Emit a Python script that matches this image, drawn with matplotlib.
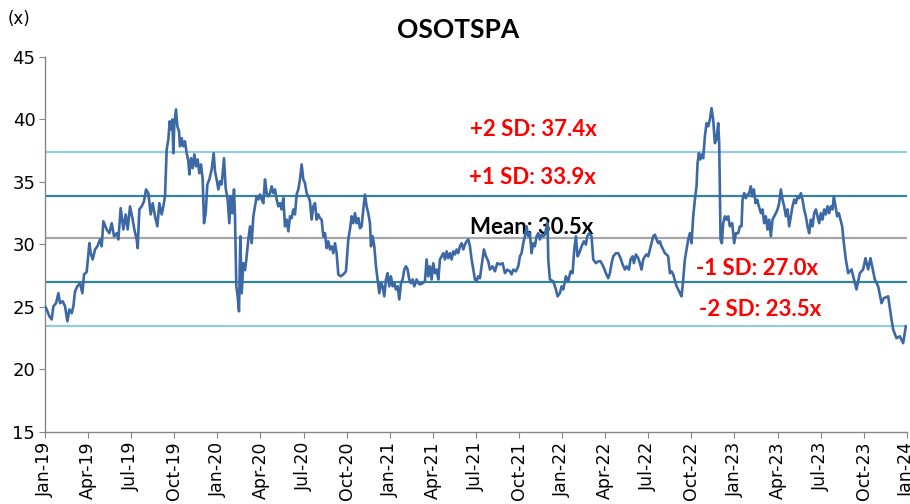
"""
OSOTSPA forward P/E band chart.
"""
import matplotlib
matplotlib.use('Agg')
import matplotlib.pyplot as plt

# months since Jan-2019
months = [
    0.0, 0.116, 0.302, 0.464, 0.580, 0.766, 0.928, 1.044, 1.230, 1.392,
    1.555, 1.694, 1.856, 1.972, 2.088, 2.251, 2.436, 2.599, 2.715, 2.900,
    3.086, 3.179, 3.318, 3.480, 3.643, 3.828, 3.944, 4.060, 4.292, 4.478,
    4.640, 4.803, 4.988, 5.104, 5.267, 5.453, 5.615, 5.754, 5.917, 6.102,
    6.218, 6.381, 6.450, 6.566, 6.729, 6.891, 7.030, 7.193, 7.355, 7.494,
    7.657, 7.819, 7.958, 8.121, 8.237, 8.353,
    8.469, 8.585, 8.678, 8.771, 8.863, 8.933, 9.003, 9.119, 9.211, 9.327,
    9.397, 9.513, 9.629, 9.745, 9.861, 9.977, 10.047, 10.163, 10.279, 10.395,
    10.511, 10.627, 10.743, 10.859, 10.975, 11.068, 11.184, 11.300, 11.439, 11.601,
    11.740, 11.833, 11.949, 12.065, 12.181, 12.297, 12.460, 12.576, 12.715, 12.831,
    12.924, 13.040, 13.156, 13.225, 13.318, 13.411, 13.504, 13.597, 13.690, 13.806,
    13.922, 14.014, 14.154, 14.270, 14.386, 14.502, 14.618, 14.734, 14.850, 14.966,
    15.082, 15.198, 15.314, 15.430, 15.546, 15.662, 15.778, 15.894, 16.010, 16.126,
    16.242, 16.358, 16.474, 16.590, 16.706, 16.822, 16.938, 17.054, 17.170, 17.286,
    17.402, 17.518, 17.634, 17.750, 17.866, 17.982, 18.098, 18.214, 18.330, 18.446,
    18.562, 18.678, 18.794, 18.910, 19.026, 19.142, 19.258, 19.374,
    19.490, 19.606, 19.722, 19.838, 19.954, 20.070, 20.186, 20.302, 20.418, 20.581,
    20.766, 20.952, 21.114, 21.230, 21.346, 21.462, 21.578, 21.694, 21.810, 21.926,
    22.042, 22.158, 22.274, 22.390, 22.506, 22.622, 22.692, 22.808, 22.924, 23.040,
    23.156, 23.272, 23.388, 23.504, 23.620, 23.736, 23.852, 23.968, 24.084, 24.200,
    24.316, 24.432, 24.548, 24.664, 24.780, 24.896, 25.012, 25.128, 25.244, 25.360,
    25.476, 25.592, 25.708, 25.871, 25.987, 26.103, 26.288, 26.451, 26.567, 26.683,
    26.799, 26.915, 27.031, 27.147, 27.263, 27.379, 27.495, 27.611, 27.727, 27.843,
    27.959, 28.075, 28.191, 28.307, 28.423, 28.539, 28.655, 28.771, 28.887, 29.003,
    29.119, 29.235, 29.351, 29.467, 29.583, 29.699, 29.815, 29.931, 30.047, 30.163,
    30.279,
    30.557, 30.697, 30.859, 30.975, 31.161, 31.323, 31.485, 31.671, 31.857, 32.019,
    32.182, 32.367, 32.483, 32.599, 32.785, 32.947, 33.063, 33.179, 33.295, 33.411,
    33.527, 33.643, 33.759, 33.875, 33.991, 34.107, 34.223, 34.339, 34.455, 34.571,
    34.687, 34.803, 34.919, 34.989, 35.035, 35.151, 35.383, 35.569, 35.685, 35.847,
    35.963, 36.080, 36.265, 36.427, 36.590, 36.729, 36.845, 36.961, 37.077, 37.193,
    37.356, 37.518, 37.657, 37.750, 37.889, 38.052, 38.168, 38.353, 38.516, 38.678,
    38.864, 39.050, 39.212, 39.328, 39.444, 39.560, 39.746, 39.908, 40.070, 40.210,
    40.372, 40.488, 40.651, 40.767, 40.906, 40.999, 41.138, 41.301, 41.416, 41.532,
    41.648, 41.764, 41.880, 41.996, 42.112, 42.228, 42.344, 42.460, 42.576, 42.692,
    42.808, 42.924, 43.040, 43.156, 43.272, 43.388, 43.504, 43.620, 43.736,
    43.968, 44.084, 44.200, 44.316, 44.432, 44.548, 44.664, 44.780, 44.896, 45.012,
    45.128, 45.244, 45.360, 45.430, 45.523, 45.615, 45.708, 45.824, 45.940, 46.056,
    46.172, 46.288, 46.404, 46.520, 46.636, 46.752, 46.868, 46.938, 47.031, 47.123,
    47.216, 47.332, 47.448, 47.564, 47.680, 47.843, 47.982, 48.098, 48.260, 48.376,
    48.492, 48.562, 48.678, 48.794, 48.910, 49.026, 49.142, 49.235, 49.351, 49.467,
    49.583, 49.699, 49.838, 49.954, 50.070, 50.186, 50.302, 50.418, 50.534, 50.650,
    50.766, 50.882, 50.998, 51.114, 51.230, 51.346, 51.462, 51.578, 51.694, 51.810,
    51.926, 52.042, 52.158, 52.274, 52.390, 52.506, 52.622, 52.738, 52.854, 52.970,
    53.086, 53.202, 53.318, 53.434, 53.550, 53.666, 53.782, 53.898, 54.014, 54.130,
    54.246, 54.362, 54.478, 54.594, 54.710, 54.826, 54.919, 55.035, 55.151, 55.267,
    55.383, 55.499, 55.615,
    55.754, 55.916, 56.148, 56.496, 56.728, 56.960, 57.123, 57.309, 57.471, 57.773,
    58.005, 58.237, 58.399, 58.701, 58.933, 59.049, 59.281, 59.513, 59.745, 59.931,
]

# P/E (x)
pe = [
    25.05, 24.8, 24.25, 24.0, 25.05, 25.3, 26.1, 25.3, 25.45, 25.05,
    23.85, 24.8, 24.5, 25.05, 26.25, 26.65, 26.9, 26.1, 27.6, 27.8,
    30.1, 29.3, 28.8, 29.6, 29.85, 30.4, 29.85, 31.85, 31.2, 30.9,
    31.7, 30.65, 30.9, 30.4, 32.9, 31.2, 32.4, 31.2, 33.05, 31.985,
    31.2, 30.4, 29.7, 32.8, 33.05, 33.45, 34.4, 34.1, 32.4, 33.3,
    32.25, 31.45, 33.3, 32.4, 33.05, 33.85,
    37.6, 38.4, 39.85, 39.2, 40.0, 37.3, 39.7, 40.8, 39.45, 39.05,
    37.85, 38.5, 37.85, 38.25, 37.3, 36.65, 35.6, 36.9, 36.1, 37.2,
    36.25, 36.8, 35.7, 36.4, 35.2, 31.7, 32.5, 34.8, 35.2, 36.0,
    37.3, 35.85, 35.2, 34.4, 35.05, 34.8, 36.9, 34.5, 33.6, 31.7,
    33.85, 32.5, 34.4, 32.25, 26.65, 25.85, 24.65, 30.65, 26.1, 28.5,
    27.95, 28.8, 30.4, 31.45, 30.1, 32.25, 33.05, 33.85, 33.6, 34.0,
    33.6, 33.3, 35.2, 34.1, 33.85, 34.1, 34.65, 34.1, 34.4, 33.6,
    33.05, 33.3, 32.8, 33.7, 31.45, 31.985, 31.05, 32.25, 32.1, 32.8,
    32.4, 34.0, 34.4, 35.2, 36.4, 35.2, 34.9, 34.1, 33.85, 33.45,
    31.985, 33.05, 33.3, 31.985, 32.4, 32.1, 31.985, 30.65,
    30.9, 29.7, 30.25, 29.6, 29.85, 29.3, 30.1, 29.3, 27.6, 27.45,
    27.6, 27.85, 30.4, 31.2, 32.25, 31.7, 32.5, 31.7, 32.1, 31.3,
    31.45, 32.8, 33.985, 33.05, 32.5, 31.7, 29.85, 30.65, 29.85, 28.25,
    27.2, 26.1, 26.9, 26.65, 25.85, 27.2, 27.7, 26.65, 27.45, 26.65,
    26.9, 26.4, 26.65, 25.6, 26.9, 27.2, 27.985, 28.25, 27.985, 27.2,
    26.9, 27.2, 26.65, 27.2, 26.9, 26.8, 26.9, 27.05, 28.8, 27.45,
    28.25, 27.2, 28.5, 27.7, 27.985, 27.2, 28.8, 29.05, 29.3, 28.8,
    29.45, 28.9, 29.3, 28.8, 29.45, 29.2, 29.6, 29.3, 29.85, 30.1,
    29.6, 29.985, 30.25, 30.4, 29.85, 28.8, 27.985, 27.2, 27.05, 27.45,
    27.3,
    29.6, 29.05, 28.65, 27.985, 28.25, 27.85, 28.5, 28.4, 28.5, 27.7,
    27.985, 27.85, 27.6, 27.985, 27.85, 28.25, 29.05, 29.3, 30.1, 30.65,
    31.45, 30.65, 30.9, 29.3, 30.1, 29.85, 30.65, 30.9, 30.4, 30.784,
    30.65, 30.784, 31.45, 31.7, 28.8, 27.2, 27.05, 26.4, 25.85, 26.1,
    26.65, 26.4, 27.45, 27.05, 27.85, 27.7, 29.585, 30.65, 29.05, 29.3,
    29.85, 30.25, 29.985, 30.65, 30.9, 30.65, 28.8, 28.5, 28.65, 28.65,
    28.25, 27.7, 27.3, 27.7, 28.5, 29.05, 29.3, 29.3, 28.9, 28.4,
    27.985, 28.25, 27.985, 28.8, 29.05, 28.5, 29.2, 28.9, 28.5, 27.985,
    28.8, 29.05, 29.2, 29.05, 29.585, 30.1, 30.65, 30.784, 30.4, 30.1,
    30.25, 29.85, 29.585, 29.3, 29.2, 29.05, 27.7, 27.85, 27.6,
    26.65, 26.4, 26.1, 25.85, 27.2, 28.8, 29.585, 30.4, 30.9, 30.1,
    32.25, 33.585, 34.65, 36.5, 37.3, 36.8, 37.2, 36.9, 38.65, 39.7,
    39.45, 39.985, 40.9, 39.985, 38.1, 38.4, 39.7, 38.1, 30.4, 30.1,
    31.7, 32.25, 31.985, 32.25, 31.45, 31.7, 30.1, 30.9, 30.9, 31.45,
    31.45, 33.585, 34.1, 33.7, 33.985, 34.1, 34.65, 33.85, 34.4, 33.3,
    33.585, 33.05, 32.5, 32.8, 31.7, 32.25, 31.185, 31.985, 30.65, 31.985,
    32.25, 32.5, 32.8, 33.3, 34.4, 33.585, 33.05, 32.25, 32.8, 31.45,
    32.25, 33.05, 33.585, 33.3, 33.85, 33.7, 34.1, 33.585, 32.8, 32.25,
    31.45, 30.9, 31.985, 31.45, 32.5, 32.8, 32.25, 31.7, 32.5, 31.985,
    32.8, 32.4, 33.05, 32.5, 33.05, 32.8, 33.85, 33.05, 32.25, 32.5,
    31.985, 31.45, 30.1,
    28.8, 27.7, 28.0, 26.4, 27.7, 28.0, 28.9, 28.0, 28.9, 27.2,
    26.65, 25.3, 25.7, 25.85, 24.0, 23.2, 22.5, 22.65, 22.1, 23.45,
]

mean = 30.5
sd_levels = [37.4, 33.9, 27.0, 23.5]
sd_labels = ['+2 SD: 37.4x', '+1 SD: 33.9x', '-1 SD: 27.0x', '-2 SD: 23.5x']

tick_labels = ['Jan-19', 'Apr-19', 'Jul-19', 'Oct-19', 'Jan-20', 'Apr-20', 'Jul-20',
               'Oct-20', 'Jan-21', 'Apr-21', 'Jul-21', 'Oct-21', 'Jan-22', 'Apr-22',
               'Jul-22', 'Oct-22', 'Jan-23', 'Apr-23', 'Jul-23', 'Oct-23', 'Jan-24']

fig = plt.figure(figsize=(9.1, 5.04), dpi=100)
ax = fig.add_axes([0.0495, 0.143, 0.947, 0.744])

light = '#93cddd'
teal = '#31849b'
grey = '#a6a6a6'

ax.axhline(sd_levels[0], color=light, lw=1.6, zorder=1)
ax.axhline(sd_levels[3], color=light, lw=1.6, zorder=1)
ax.axhline(sd_levels[1], color=teal, lw=1.6, zorder=1)
ax.axhline(sd_levels[2], color=teal, lw=1.6, zorder=1)
ax.axhline(mean, color=grey, lw=1.6, zorder=1)

ax.plot(months, pe, color='#3c69a6', lw=1.9, zorder=3, solid_joinstyle='round')

lab_font = dict(family='Lato', fontweight='bold', fontsize=16, va='center', ha='left', zorder=2)
ax.text(29.6, 39.2, sd_labels[0], color='#ff0000', **lab_font)
ax.text(29.5, 35.35, sd_labels[1], color='#ff0000', **lab_font)
ax.text(29.6, 31.35, 'Mean: 30.5x', color='black', **lab_font)
ax.text(45.3, 28.1, sd_labels[2], color='#ff0000', **lab_font)
ax.text(45.5, 24.8, sd_labels[3], color='#ff0000', **lab_font)

ax.set_xlim(0, 60)
ax.set_ylim(15, 45)
ax.set_yticks([15, 20, 25, 30, 35, 40, 45])
ax.set_xticks(range(0, 61, 3))
ax.set_xticklabels(tick_labels, rotation=90)
ax.tick_params(axis='y', labelsize=13, length=4, color='#868686', pad=3)
ax.tick_params(axis='x', labelsize=12.5, length=4, color='#868686', pad=3)

for s in ['top', 'right']:
    ax.spines[s].set_visible(False)
for s in ['left', 'bottom']:
    ax.spines[s].set_color('#868686')
    ax.spines[s].set_linewidth(1.0)

fig.text(0.503, 0.94, 'OSOTSPA', family='Lato', fontweight='bold', fontsize=19,
         ha='center', va='center')
fig.text(0.008, 0.962, '(x)', fontsize=12, ha='left', va='center')

fig.savefig('out.png', dpi=100)
